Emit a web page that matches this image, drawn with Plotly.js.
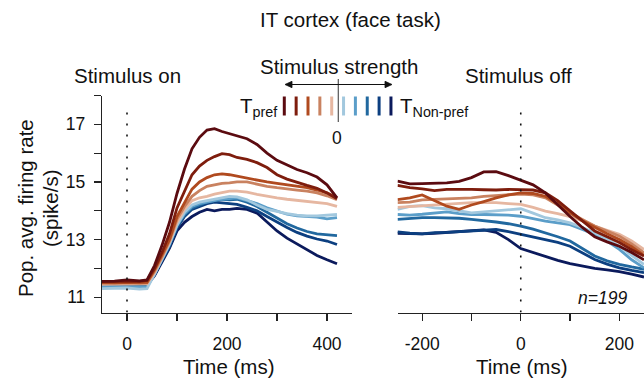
<!DOCTYPE html>
<html>
<head>
<meta charset="utf-8">
<script src="https://cdn.plot.ly/plotly-3.0.1.min.js"></script>
<style>html,body{margin:0;padding:0;background:#fff;}#chart{width:644px;height:379px;}</style>
</head>
<body>
<div id="chart"></div>
<script>
// ---- data ----
const seriesNames = ['S1 (T pref)', 'S2', 'S3', 'S4', 'S5', 'S6', 'S7', 'S8', 'S9', 'S10 (T non-pref)'];
const seriesColors = ['#5b0b10', '#7e1d0d', '#b04a1f', '#c98260', '#e6b7a1', '#a2c8de', '#5b9ec9', '#21689f', '#0c3f80', '#0b1a5c'];

// Stimulus-on aligned time (ms)
const tOn = [-50, -25, 0, 25, 40, 55, 70, 85, 100, 115, 130, 145, 160, 175, 190, 205, 220, 240, 260, 280, 300, 320, 340, 360, 380, 400, 420];
const onS1 = [11.55, 11.56, 11.6, 11.57, 11.6, 12.1, 12.8, 13.6, 14.6, 15.45, 16.15, 16.55, 16.8, 16.85, 16.75, 16.68, 16.6, 16.5, 16.3, 16.0, 15.75, 15.6, 15.43, 15.32, 15.17, 14.9, 14.45];
const onS2 = [11.55, 11.55, 11.56, 11.55, 11.58, 12.0, 12.55, 13.2, 14.1, 14.7, 15.25, 15.55, 15.75, 15.88, 15.98, 15.95, 15.85, 15.78, 15.67, 15.5, 15.25, 15.1, 14.98, 14.88, 14.78, 14.62, 14.42];
const onS3 = [11.5, 11.5, 11.52, 11.5, 11.52, 11.95, 12.45, 13.0, 13.8, 14.3, 14.75, 15.0, 15.15, 15.25, 15.28, 15.25, 15.2, 15.12, 15.05, 15.0, 14.95, 14.9, 14.85, 14.8, 14.72, 14.62, 14.45];
const onS4 = [11.5, 11.48, 11.5, 11.48, 11.5, 11.9, 12.4, 12.95, 13.7, 14.15, 14.5, 14.7, 14.85, 14.9, 14.95, 14.97, 15.0, 15.0, 14.92, 14.85, 14.8, 14.75, 14.72, 14.68, 14.62, 14.52, 14.38];
const onS5 = [11.45, 11.45, 11.46, 11.44, 11.46, 11.85, 12.35, 12.9, 13.6, 14.05, 14.35, 14.45, 14.5, 14.58, 14.63, 14.68, 14.68, 14.65, 14.57, 14.5, 14.45, 14.4, 14.36, 14.33, 14.3, 14.25, 14.15];
const onS6 = [11.3, 11.3, 11.32, 11.28, 11.3, 11.8, 12.3, 12.85, 13.5, 13.95, 14.2, 14.3, 14.35, 14.4, 14.45, 14.5, 14.48, 14.38, 14.2, 14.05, 13.98, 13.9, 13.85, 13.82, 13.82, 13.85, 13.87];
const onS7 = [11.35, 11.35, 11.36, 11.34, 11.36, 11.8, 12.3, 12.85, 13.5, 13.9, 14.15, 14.25, 14.3, 14.35, 14.4, 14.42, 14.45, 14.35, 14.25, 14.1, 13.98, 13.88, 13.82, 13.8, 13.78, 13.72, 13.76];
const onS8 = [11.4, 11.4, 11.42, 11.4, 11.42, 11.8, 12.3, 12.8, 13.45, 13.85, 14.1, 14.2, 14.3, 14.35, 14.4, 14.38, 14.4, 14.3, 14.15, 13.95, 13.75, 13.55, 13.4, 13.28, 13.2, 13.18, 13.14];
const onS9 = [11.45, 11.45, 11.44, 11.43, 11.45, 11.8, 12.25, 12.75, 13.4, 13.8, 14.05, 14.15, 14.25, 14.3, 14.28, 14.25, 14.22, 14.12, 14.0, 13.8, 13.6, 13.42, 13.25, 13.12, 13.02, 12.95, 12.83];
const onS10 = [11.42, 11.43, 11.42, 11.4, 11.42, 11.75, 12.2, 12.7, 13.3, 13.6, 13.8, 13.95, 14.05, 14.0, 14.05, 14.05, 14.08, 14.05, 13.92, 13.6, 13.3, 13.05, 12.85, 12.65, 12.45, 12.3, 12.16];

// Stimulus-off aligned time (ms)
const tOff = [-250, -225, -200, -175, -150, -125, -100, -75, -50, -25, 0, 25, 50, 75, 100, 125, 150, 175, 200, 225, 250];
const offS1 = [15.03, 14.93, 14.94, 14.96, 14.97, 15.02, 15.15, 15.35, 15.36, 15.22, 15.07, 14.9, 14.62, 14.2, 13.8, 13.42, 13.1, 12.92, 12.77, 12.55, 12.3];
const offS2 = [14.88, 14.8, 14.76, 14.7, 14.74, 14.75, 14.74, 14.73, 14.72, 14.74, 14.74, 14.72, 14.62, 14.35, 14.0, 13.65, 13.3, 13.1, 12.9, 12.65, 12.43];
const offS3 = [14.39, 14.45, 14.55, 14.35, 14.16, 14.05, 14.2, 14.32, 14.45, 14.55, 14.62, 14.6, 14.5, 14.25, 13.93, 13.65, 13.42, 13.2, 13.0, 12.75, 12.45];
const offS4 = [14.28, 14.3, 14.38, 14.4, 14.4, 14.42, 14.45, 14.5, 14.53, 14.56, 14.58, 14.55, 14.45, 14.2, 13.93, 13.7, 13.47, 13.3, 13.12, 12.85, 12.54];
const offS5 = [14.12, 14.15, 14.18, 14.2, 14.22, 14.25, 14.28, 14.28, 14.28, 14.25, 14.22, 14.12, 13.99, 13.9, 13.8, 13.65, 13.47, 13.32, 13.18, 12.95, 12.66];
const offS6 = [14.05, 14.15, 14.18, 14.1, 14.07, 14.0, 13.93, 13.96, 13.99, 14.03, 14.07, 13.92, 13.76, 13.68, 13.58, 13.42, 13.24, 13.0, 12.77, 12.45, 12.14];
const offS7 = [13.87, 13.85, 13.88, 13.93, 13.96, 13.9, 13.87, 13.87, 13.87, 13.85, 13.81, 13.72, 13.64, 13.58, 13.52, 13.35, 13.18, 12.95, 12.66, 12.3, 12.02];
const offS8 = [13.7, 13.74, 13.76, 13.76, 13.76, 13.74, 13.7, 13.66, 13.61, 13.55, 13.47, 13.36, 13.24, 13.1, 12.95, 12.7, 12.43, 12.26, 12.14, 12.05, 11.97];
const offS9 = [13.27, 13.22, 13.2, 13.24, 13.25, 13.28, 13.31, 13.34, 13.35, 13.28, 13.18, 13.1, 13.0, 12.9, 12.77, 12.55, 12.31, 12.15, 12.02, 11.93, 11.85];
const offS10 = [13.22, 13.2, 13.2, 13.22, 13.25, 13.3, 13.33, 13.34, 13.25, 13.0, 12.69, 12.55, 12.4, 12.28, 12.17, 12.08, 12.0, 11.95, 11.89, 11.8, 11.7];

const onValues = [onS1, onS2, onS3, onS4, onS5, onS6, onS7, onS8, onS9, onS10];
const offValues = [offS1, offS2, offS3, offS4, offS5, offS6, offS7, offS8, offS9, offS10];

const onTickVals = [0, 100, 200, 300, 400];
const onTickText = ['0', '', '200', '', '400'];
const offTickVals = [-200, -100, 0, 100, 200];
const offTickText = ['-200', '', '0', '', '200'];
const yTickVals = [11, 12, 13, 14, 15, 16, 17, 18];
const yTickText = ['11', '', '13', '', '15', '', '17', ''];

// ---- layout helpers ----
const W = 644, H = 379;
const px = v => v / W;
const py = v => 1 - v / H;
const FONT = 'Liberation Sans, Arial, Helvetica, sans-serif';
const INK = '#111111';
const TITLE_SIZE = 20.5;
const TICK_SIZE = 17.5;

const traces = [];
for (let i = seriesNames.length - 1; i >= 0; i--) {
  traces.push({x: tOn, y: onValues[i], xaxis: 'x', yaxis: 'y', type: 'scatter', mode: 'lines',
    name: seriesNames[i], line: {color: seriesColors[i], width: 2.8}, showlegend: false, hoverinfo: 'skip'});
  traces.push({x: tOff, y: offValues[i], xaxis: 'x2', yaxis: 'y', type: 'scatter', mode: 'lines',
    name: seriesNames[i], line: {color: seriesColors[i], width: 2.8}, showlegend: false, hoverinfo: 'skip'});
}

const axisCommon = {
  showgrid: false, zeroline: false, showline: true, linecolor: '#222', linewidth: 1.2,
  ticks: 'outside', ticklen: 7, tickwidth: 1.2, tickcolor: '#222',
  tickfont: {family: FONT, size: TICK_SIZE, color: INK}, fixedrange: true
};

const yBottom = 10.47;
const layout = {
  width: W, height: H,
  margin: {l: 0, r: 0, t: 0, b: 0},
  paper_bgcolor: '#fff', plot_bgcolor: 'rgba(0,0,0,0)',
  showlegend: false,
  xaxis: Object.assign({}, axisCommon, {domain: [px(102), px(352)], range: [-50, 450], anchor: 'y',
    tickmode: 'array', tickvals: onTickVals, ticktext: onTickText, ticklabelstandoff: 8}),
  xaxis2: Object.assign({}, axisCommon, {domain: [px(397.5), 1], range: [-250, 250], anchor: 'y',
    tickmode: 'array', tickvals: offTickVals, ticktext: offTickText, ticklabelstandoff: 8}),
  yaxis: Object.assign({}, axisCommon, {domain: [py(312.5), py(95.5)], range: [yBottom, 18], anchor: 'x',
    tickmode: 'array', tickvals: yTickVals, ticktext: yTickText, ticklabelstandoff: 5}),
  shapes: [],
  annotations: []
};

// stimulus on/off reference lines
layout.shapes.push({type: 'line', xref: 'x', yref: 'y', x0: 0, x1: 0, y0: yBottom, y1: 17.64,
  line: {color: '#111', width: 1.6, dash: '2px,9px'}});
layout.shapes.push({type: 'line', xref: 'x2', yref: 'y', x0: 0, x1: 0, y0: yBottom, y1: 17.64,
  line: {color: '#111', width: 1.6, dash: '2px,9px'}});

// colour key bars
for (let i = 0; i < seriesColors.length; i++) {
  const bx = 284.3 + i * 11.85;
  layout.shapes.push({type: 'line', xref: 'paper', yref: 'paper', x0: px(bx), x1: px(bx), y0: py(96.5), y1: py(115.5),
    line: {color: seriesColors[i], width: 3}});
}
// centre line of key
layout.shapes.push({type: 'line', xref: 'paper', yref: 'paper', x0: px(338.3), x1: px(338.3), y0: py(79), y1: py(122),
  line: {color: '#555', width: 1.2}});
// double-headed arrow of the key
const ay = 84.5, axL = 285, axR = 392;
layout.shapes.push({type: 'line', xref: 'paper', yref: 'paper', x0: px(axL + 1), x1: px(axR - 1), y0: py(ay), y1: py(ay),
  line: {color: '#111', width: 1.2}});
function head(x0, dir) {
  const xs = x0 + dir * 7;
  return {type: 'path', xref: 'paper', yref: 'paper',
    path: 'M ' + px(xs) + ' ' + py(ay - 3.2) + ' L ' + px(x0) + ' ' + py(ay) + ' L ' + px(xs) + ' ' + py(ay + 3.2) + ' Z',
    fillcolor: '#111', line: {color: '#111', width: 0.8}};
}
layout.shapes.push(head(axL, 1));
layout.shapes.push(head(axR, -1));

function txt(text, x, y, size, opts) {
  return Object.assign({text: text, xref: 'paper', yref: 'paper', x: px(x), y: py(y), showarrow: false,
    xanchor: 'center', yanchor: 'middle', font: {family: FONT, size: size, color: INK}}, opts || {});
}
layout.annotations.push(txt('IT cortex (face task)', 350, 19, TITLE_SIZE));
layout.annotations.push(txt('Stimulus on', 127, 76, TITLE_SIZE));
layout.annotations.push(txt('Stimulus off', 518, 76, TITLE_SIZE));
layout.annotations.push(txt('Stimulus strength', 339, 66, TITLE_SIZE));
layout.annotations.push(txt('T<sub>pref</sub>', 279, 107, TITLE_SIZE, {xanchor: 'right'}));
layout.annotations.push(txt('T<sub>Non-pref</sub>', 398, 107, TITLE_SIZE, {xanchor: 'left'}));
layout.annotations.push(txt('0', 337.5, 138, TICK_SIZE));
layout.annotations.push(txt('Pop. avg. firing rate', 25, 208, TITLE_SIZE, {textangle: -90}));
layout.annotations.push(txt('(spike/s)', 50, 208, TITLE_SIZE, {textangle: -90}));
layout.annotations.push(txt('Time (ms)', 228, 366, TITLE_SIZE));
layout.annotations.push(txt('Time (ms)', 521, 366, TITLE_SIZE));
layout.annotations.push(txt('<i>n=199</i>', 602, 298, TICK_SIZE));

Plotly.newPlot('chart', traces, layout, {displayModeBar: false, staticPlot: true});
</script>
</body>
</html>
